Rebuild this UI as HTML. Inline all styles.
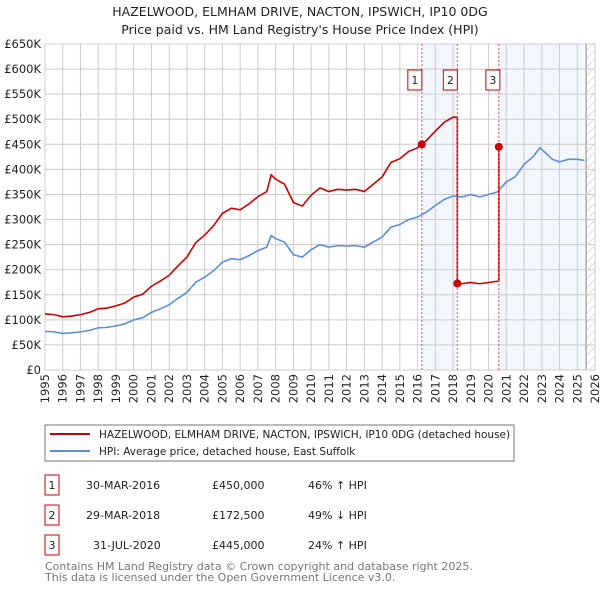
<!DOCTYPE html>
<html><head><meta charset="utf-8"><style>
body{margin:0;background:#fff;font-family:"DejaVu Sans","Liberation Sans",sans-serif;}
svg text{font-family:"DejaVu Sans","Liberation Sans",sans-serif;}
</style></head><body>
<svg id="c" width="600" height="590" xmlns="http://www.w3.org/2000/svg">
<defs><pattern id="hatch" width="6" height="6" patternUnits="userSpaceOnUse" patternTransform="rotate(45)"><line x1="0" y1="0" x2="0" y2="6" stroke="#bbb" stroke-width="1"/></pattern></defs>
<text x="300" y="16" text-anchor="middle" font-size="12.5" fill="#222">HAZELWOOD, ELMHAM DRIVE, NACTON, IPSWICH, IP10 0DG</text>
<text x="300" y="34" text-anchor="middle" font-size="12.5" fill="#222">Price paid vs. HM Land Registry's House Price Index (HPI)</text>
<g id="plot"></g>
<rect x="45" y="425" width="469" height="36" fill="#fff" stroke="#777"/>
<line x1="50" y1="434" x2="90" y2="434" stroke="#cc0000" stroke-width="2"/>
<text x="99" y="438" font-size="10.5" fill="#222">HAZELWOOD, ELMHAM DRIVE, NACTON, IPSWICH, IP10 0DG (detached house)</text>
<line x1="50" y1="451" x2="90" y2="451" stroke="#5b8fd6" stroke-width="2"/>
<text x="99" y="455" font-size="10.5" fill="#222">HPI: Average price, detached house, East Suffolk</text>
<g id="table" font-size="11" fill="#222"></g>
<text x="45" y="570" font-size="11" fill="#777">Contains HM Land Registry data © Crown copyright and database right 2025.</text>
<text x="45" y="581" font-size="11" fill="#777">This data is licensed under the Open Government Licence v3.0.</text>
</svg>
<script>
const hpiYears=[1995,1995.5,1996,1996.5,1997,1997.5,1998,1998.5,1999,1999.5,2000,2000.5,2001,2001.5,2002,2002.5,2003,2003.5,2004,2004.5,2005,2005.5,2006,2006.5,2007,2007.5,2007.75,2008,2008.5,2009,2009.5,2010,2010.5,2011,2011.5,2012,2012.5,2013,2013.5,2014,2014.5,2015,2015.5,2016,2016.5,2017,2017.5,2018,2018.5,2019,2019.5,2020,2020.5,2021,2021.5,2022,2022.5,2022.9,2023.3,2023.6,2024,2024.5,2025,2025.4];
const hpiValues=[77,76,73,74,76,79,84,85,88,92,100,104,115,122,130,143,155,175,185,198,215,222,220,228,238,245,268,262,255,230,225,240,250,245,248,247,248,245,255,265,285,290,300,305,315,328,340,347,345,350,345,350,355,375,385,410,425,443,430,420,415,420,420,418];
const saleLabels=["1","2","3"];
const saleDates=[2016.24,2018.24,2020.58];
const salePrices=[450,172.5,445];
const saleDateText=["30-MAR-2016","29-MAR-2018","31-JUL-2020"];
const salePriceText=["£450,000","£172,500","£445,000"];
const saleHpiText=["46% ↑ HPI","49% ↓ HPI","24% ↑ HPI"];
const yTicks=[0,50,100,150,200,250,300,350,400,450,500,550,600,650];
const yTickLabels=["£0","£50K","£100K","£150K","£200K","£250K","£300K","£350K","£400K","£450K","£500K","£550K","£600K","£650K"];
const xTicks=[1995,1996,1997,1998,1999,2000,2001,2002,2003,2004,2005,2006,2007,2008,2009,2010,2011,2012,2013,2014,2015,2016,2017,2018,2019,2020,2021,2022,2023,2024,2025,2026];

const X0=45,X1=595,Y0=370,Y1=44;
const xs=t=>X0+(t-1995)/(2026-1995)*(X1-X0);
const ys=v=>Y0-v/650*(Y0-Y1);
const NS="http://www.w3.org/2000/svg";
const plot=document.getElementById('plot');
function mk(tag,attrs,parent){const e=document.createElementNS(NS,tag);for(const k in attrs)e.setAttribute(k,attrs[k]);(parent||plot).appendChild(e);return e;}
function hpiAt(t){for(let i=0;i<hpiYears.length-1;i++){if(t<=hpiYears[i+1]){const f=(t-hpiYears[i])/(hpiYears[i+1]-hpiYears[i]);return hpiValues[i]+f*(hpiValues[i+1]-hpiValues[i]);}}return hpiValues[hpiValues.length-1];}

let bg=mk('rect',{x:X0,y:Y1,width:X1-X0,height:Y0-Y1,fill:'#fff'});


let s1=mk('rect',{x:xs(saleDates[0]),y:Y1,width:xs(saleDates[1])-xs(saleDates[0]),height:Y0-Y1,fill:'#f3f6fd'});


let lastT=2025.5;
let s2=mk('rect',{x:xs(saleDates[2]),y:Y1,width:xs(lastT)-xs(saleDates[2]),height:Y0-Y1,fill:'#f3f6fd'});


let ht=mk('rect',{x:xs(lastT),y:Y1,width:X1-xs(lastT),height:Y0-Y1,fill:'url(#hatch)'});


mk('line',{x1:xs(lastT),y1:Y1,x2:xs(lastT),y2:Y0,stroke:'#888'});
yTicks.forEach((v,i)=>{
  mk('line',{x1:X0,y1:ys(v),x2:X1,y2:ys(v),stroke:'#ccc'});
  let t=mk('text',{x:X0-4,y:ys(v)+4,'text-anchor':'end','font-size':'11.5',fill:'#222'});t.textContent=yTickLabels[i];
  
  
});
xTicks.forEach(y=>{
  mk('line',{x1:xs(y),y1:Y1,x2:xs(y),y2:Y0,stroke:'#ccc'});
  let t=mk('text',{x:0,y:0,'text-anchor':'end','font-size':'11.5',fill:'#222',transform:`translate(${xs(y)+4},${Y0+4}) rotate(-90)`});t.textContent=y;
  
  
});
mk('rect',{x:X0,y:Y1,width:X1-X0,height:Y0-Y1,fill:'none',stroke:'#ccc'});
let hp=mk('polyline',{points:hpiYears.map((t,i)=>xs(t)+','+ys(hpiValues[i])).join(' '),fill:'none',stroke:'#5b8fd6','stroke-width':1.6});


const pts=[];
const firstRatio=salePrices[0]/hpiAt(saleDates[0]);
hpiYears.forEach((t,i)=>{if(t<saleDates[0])pts.push([t,hpiValues[i]*firstRatio]);});
for(let s=0;s<saleDates.length;s++){
  const r=salePrices[s]/hpiAt(saleDates[s]);
  if(s>0)pts.push([saleDates[s],pts[pts.length-1][1]]);
  pts.push([saleDates[s],salePrices[s]]);
  const end=s<saleDates.length-1?saleDates[s+1]:99;
  hpiYears.forEach((t,i)=>{if(t>saleDates[s]&&t<end)pts.push([t,hpiValues[i]*r]);});
}
let pl=mk('polyline',{points:pts.map(p=>xs(p[0])+','+ys(p[1])).join(' '),fill:'none',stroke:'#cc0000','stroke-width':1.6});


saleDates.forEach((d,i)=>{
  mk('line',{x1:xs(d),y1:Y1,x2:xs(d),y2:Y0,stroke:'#e55','stroke-width':1,'stroke-dasharray':'2,2'});
  let c=mk('circle',{cx:xs(d),cy:ys(salePrices[i]),r:4,fill:'#cc0000'});
  
  
  let off=i==2?-6:-7;
  let b=mk('rect',{x:xs(d)+off-7,y:70,width:14,height:20,fill:'#fff',stroke:'#cc0000'});
  
  
  let t=mk('text',{x:xs(d)+off,y:84,'text-anchor':'middle','font-size':'11',fill:'#222'});t.textContent=saleLabels[i];
});
const tb=document.getElementById('table');
saleLabels.forEach((l,i)=>{
  const cy=485+i*30;
  let r=mk('rect',{x:45,y:cy-10,width:14,height:20,fill:'#fff',stroke:'#cc0000'},tb);
  
  
  let a=mk('text',{x:52,y:cy+4,'text-anchor':'middle'},tb);a.textContent=l;
  let d=mk('text',{x:i==2?93:86,y:cy+4},tb);d.textContent=saleDateText[i];
  
  
  let p=mk('text',{x:212,y:cy+4},tb);p.textContent=salePriceText[i];
  
  
  let h=mk('text',{x:308,y:cy+4},tb);h.textContent=saleHpiText[i];
  
  
});
</script>
</body></html>
